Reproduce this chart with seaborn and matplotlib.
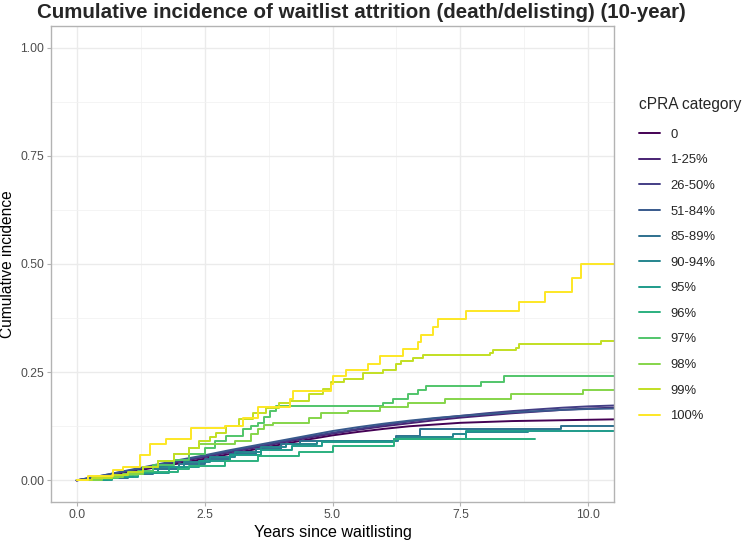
import matplotlib
matplotlib.use("Agg")
import matplotlib.pyplot as plt
import seaborn as sns
import pandas as pd
from matplotlib.ticker import FixedLocator

# ---------------- data ----------------
categories = ["0", "1-25%", "26-50%", "51-84%", "85-89%", "90-94%",
              "95%", "96%", "97%", "98%", "99%", "100%"]
palette = ["#440154", "#482173", "#433E85", "#38598C", "#2D708E", "#25858E",
           "#1E9B8A", "#2BB07F", "#51C56A", "#85D54A", "#C2DF23", "#FDE725"]

# large groups (many small events) read at half-year points
t_dense = [0.0, 0.5, 1.0, 1.5, 2.0, 2.5, 3.0, 3.5, 4.0, 4.5, 5.0, 5.5,
           6.0, 6.5, 7.0, 7.5, 8.0, 8.5, 9.0, 9.5, 10.0, 10.5]
v_0 = [0, .009, .019, .029, .039, .050, .061, .072, .083, .094, .104, .112,
       .119, .125, .129, .133, .135, .137, .138, .139, .140, .141]
v_1_25 = [0, .010, .021, .032, .043, .054, .065, .076, .087, .098, .108, .117,
          .125, .132, .139, .145, .150, .155, .159, .163, .166, .168]
v_26_50 = [0, .011, .022, .033, .045, .056, .067, .078, .089, .100, .110, .119,
           .128, .136, .143, .149, .155, .160, .164, .168, .171, .173]
v_51_84 = [0, .011, .023, .035, .047, .058, .070, .081, .092, .103, .114, .123,
           .131, .138, .144, .149, .153, .157, .160, .163, .165, .166]

# smaller groups: step functions (time of step, value after step)
t_85_89 = [0, 0.5, 1.0, 1.5, 2.0, 2.5, 3.0, 3.5, 4.0, 4.36, 6.24, 6.7, 9.46, 10.5]
v_85_89 = [0, .006, .015, .027, .038, .050, .062, .073, .084, .091, .102, .118, .125, .125]

t_90_94 = [0, 0.6, 1.1, 1.6, 2.1, 2.6, 3.1, 3.6, 4.1, 4.7, 6.28, 7.35, 7.61, 8.82]
v_90_94 = [0, .008, .018, .030, .042, .054, .066, .076, .085, .092, .100, .106, .112, .112]

t_95 = [0, 0.7, 1.2, 1.8, 2.4, 3.0, 3.6, 4.2, 4.8, 6.21, 7.61, 10.5]
v_95 = [0, .008, .018, .030, .045, .058, .070, .080, .088, .095, .114, .114]

t_96 = [0, 0.3, 0.7, 1.0, 1.3, 1.98, 2.2, 2.89, 3.54, 4.35, 5.0, 6.21, 8.95]
v_96 = [0, .004, .009, .015, .020, .027, .033, .045, .056, .066, .079, .095, .095]

t_97 = [0, 0.4, 0.8, 1.2, 1.5, 1.9, 2.2, 2.5, 2.7, 2.92, 3.25, 3.41, 3.54, 3.67,
        3.77, 3.9, 5.98, 6.18, 6.47, 6.67, 6.83, 7.9, 8.36, 10.5]
v_97 = [0, .005, .012, .022, .035, .048, .060, .075, .090, .102, .118, .125, .133, .147,
        .160, .172, .179, .189, .199, .209, .218, .227, .242, .242]

t_98 = [0, 0.5, 0.9, 1.3, 1.6, 1.9, 2.2, 2.4, 3.1, 3.41, 3.54, 3.67, 3.84, 4.55,
        4.78, 5.3, 5.92, 6.47, 7.19, 8.49, 9.9, 10.5]
v_98 = [0, .007, .015, .030, .045, .060, .075, .083, .091, .106, .118, .129, .133, .145,
        .155, .161, .169, .178, .187, .199, .209, .209]

t_99 = [0, 0.3, 0.7, 1.0, 1.3, 1.6, 1.9, 2.2, 2.4, 2.6, 2.73, 2.92, 3.18, 3.44, 3.7,
        3.96, 4.16, 4.55, 4.81, 4.97, 5.23, 5.59, 5.98, 6.24, 6.34, 6.57, 6.76,
        8.07, 8.13, 8.59, 8.65, 10.25, 10.5]
v_99 = [0, .005, .012, .020, .030, .045, .060, .075, .091, .100, .110, .125, .141, .156, .168,
        .178, .183, .199, .210, .227, .235, .249, .255, .268, .276, .283, .289,
        .295, .302, .305, .314, .323, .323]

t_100 = [0, 0.22, 0.71, 0.9, 1.23, 1.43, 1.75, 2.24, 2.9, 3.25, 3.54, 4.16, 4.22,
         4.97, 5.0, 5.27, 5.69, 5.92, 6.37, 6.67, 6.73, 6.96, 7.06, 7.61, 8.65,
         9.16, 9.68, 9.86, 10.5]
v_100 = [0, .009, .025, .030, .059, .083, .096, .120, .126, .145, .170, .187, .206,
         .222, .242, .255, .270, .287, .304, .319, .337, .355, .373, .391, .413,
         .435, .468, .501, .501]

series = {
    "0": (t_dense, v_0, False),
    "1-25%": (t_dense, v_1_25, False),
    "26-50%": (t_dense, v_26_50, False),
    "51-84%": (t_dense, v_51_84, False),
    "85-89%": (t_85_89, v_85_89, True),
    "90-94%": (t_90_94, v_90_94, True),
    "95%": (t_95, v_95, True),
    "96%": (t_96, v_96, True),
    "97%": (t_97, v_97, True),
    "98%": (t_98, v_98, True),
    "99%": (t_99, v_99, True),
    "100%": (t_100, v_100, True),
}

rows = []
for cat in categories:
    ts, vs, _ = series[cat]
    for t, v in zip(ts, vs):
        rows.append({"time": t, "cuminc": v, "cPRA": cat})
df = pd.DataFrame(rows)

# ---------------- plot ----------------
sns.set_theme(style="white")
plt.rcParams["font.family"] = ["Liberation Sans", "DejaVu Sans"]

fig = plt.figure(figsize=(7.47, 5.41), dpi=100)
ax = fig.add_axes([51 / 747, 1 - 502 / 541, (614 - 51) / 747, (502 - 26) / 541])

for cat, col in zip(categories, palette):
    sub = df[df["cPRA"] == cat]
    step = series[cat][2]
    sns.lineplot(data=sub, x="time", y="cuminc", color=col, ax=ax,
                 estimator=None, sort=False, label=cat, linewidth=1.4,
                 drawstyle="steps-post" if step else "default")

ax.set_xlim(-0.5, 10.5)
ax.set_ylim(-0.05, 1.05)
ax.xaxis.set_major_locator(FixedLocator([0, 2.5, 5, 7.5, 10]))
ax.xaxis.set_minor_locator(FixedLocator([1.25, 3.75, 6.25, 8.75]))
ax.yaxis.set_major_locator(FixedLocator([0, 0.25, 0.5, 0.75, 1.0]))
ax.yaxis.set_minor_locator(FixedLocator([0.125, 0.375, 0.625, 0.875]))
ax.set_xticklabels(["0.0", "2.5", "5.0", "7.5", "10.0"])
ax.set_yticklabels(["0.00", "0.25", "0.50", "0.75", "1.00"])
ax.grid(True, which="major", color="#EBEBEB", linewidth=1.0)
ax.grid(True, which="minor", color="#F2F2F2", linewidth=0.6)
ax.set_axisbelow(True)
for s in ax.spines.values():
    s.set_color("#B3B3B3")
    s.set_linewidth(1.0)
ax.tick_params(which="major", length=3, width=0.8, color="#B3B3B3",
               labelcolor="#4D4D4D", labelsize=8.8, pad=2,
               bottom=True, left=True)
ax.tick_params(which="minor", length=0)

ax.set_xlabel("Years since waitlisting", fontsize=11.6, color="black", labelpad=3)
ax.set_ylabel("Cumulative incidence", fontsize=11.2, color="black")
ax.yaxis.set_label_coords(-0.064, 0.5)

fig.text(37 / 747, 1 - 3 / 541,
         "Cumulative incidence of waitlist attrition (death/delisting) (10-year)",
         fontsize=14.75, fontweight="bold", ha="left", va="top")

handles, labels = ax.get_legend_handles_labels()
leg = ax.legend(handles, labels, title="cPRA category", loc="upper left",
                bbox_to_anchor=(639 / 747, 1 - 97 / 541),
                bbox_transform=fig.transFigure, frameon=False,
                fontsize=9.4, title_fontsize=11.2, handlelength=1.6,
                handletextpad=0.8, labelspacing=1.03, borderpad=0,
                borderaxespad=0, alignment="left")
leg._legend_box.sep = 12

fig.savefig("out.png", dpi=100)
